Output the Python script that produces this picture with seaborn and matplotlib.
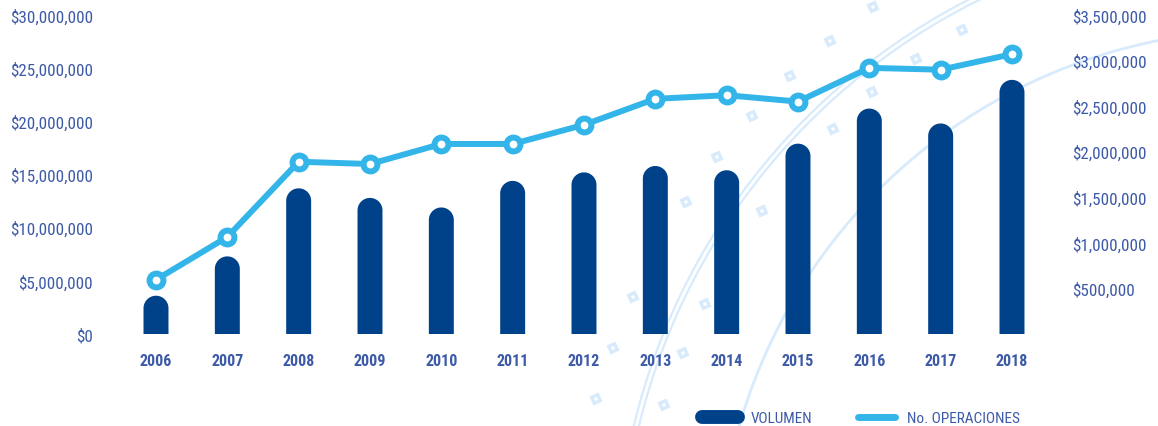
import numpy as np
import pandas as pd
import matplotlib
matplotlib.use("Agg")
import matplotlib.pyplot as plt
from matplotlib.patches import Arc, RegularPolygon, PathPatch
from matplotlib.path import Path
from matplotlib.lines import Line2D
from matplotlib.ticker import FuncFormatter, FixedLocator
import seaborn as sns

# ---- data -------------------------------------------------------------
years = ["2006", "2007", "2008", "2009", "2010", "2011", "2012",
         "2013", "2014", "2015", "2016", "2017", "2018"]
volumen = [3.6e6, 7.3e6, 13.7e6, 12.8e6, 11.9e6, 14.4e6, 15.2e6,
           15.8e6, 15.4e6, 17.9e6, 21.2e6, 19.8e6, 23.9e6]
operaciones = [0.595e6, 1.065e6, 1.89e6, 1.865e6, 2.085e6, 2.085e6, 2.295e6,
               2.58e6, 2.62e6, 2.55e6, 2.92e6, 2.90e6, 3.07e6]
left_ticks = [0, 5e6, 10e6, 15e6, 20e6, 25e6, 30e6]
right_ticks = [0.5e6, 1e6, 1.5e6, 2e6, 2.5e6, 3e6, 3.5e6]
legend_labels = ["VOLUMEN", "No. OPERACIONES"]

# ---- style ------------------------------------------------------------
DARK = "#00428a"
LIGHT = "#34b5e9"
TEXT = "#3d5aa8"
DECO = "#d8ebfc"

sns.set_theme(style="white")
plt.rcParams["font.family"] = ["Roboto Condensed", "Liberation Sans Narrow",
                               "Liberation Sans", "DejaVu Sans"]

W, H = 1158, 427
fig = plt.figure(figsize=(W / 100, H / 100), dpi=100)
fig.patch.set_facecolor("white")

# ---- decorative background (arcs and small diamonds) ------------------
bg = fig.add_axes([0, 0, 1, 1], zorder=0)
bg.set_xlim(0, W)
bg.set_ylim(H, 0)
bg.axis("off")
for r, lw in [(644, 1.6), (649, 1.6), (547, 2.0)]:
    bg.add_patch(Arc((1265, 578), 2 * r, 2 * r, theta1=180, theta2=290,
                     color=DECO, lw=lw))
diamonds = [(873, 8), (962, 31), (916, 60), (830, 42), (790, 77), (872, 93),
            (752, 117), (833, 130), (717, 158), (686, 203), (762, 212),
            (633, 298), (705, 305), (613, 349), (683, 354), (596, 400),
            (664, 406)]
for (dx, dy) in diamonds:
    bg.add_patch(RegularPolygon((dx, dy), 4, radius=7, orientation=0.35,
                                facecolor=DECO, edgecolor="none"))
    bg.add_patch(RegularPolygon((dx, dy), 4, radius=2.2, orientation=0.35,
                                facecolor="white", edgecolor="none"))

# ---- main axes --------------------------------------------------------
left_px, right_px, top_px, bottom_px = 100, 1060, 16, 335
ax = fig.add_axes([left_px / W, 1 - bottom_px / H,
                   (right_px - left_px) / W, (bottom_px - top_px) / H],
                  zorder=2)
ax.patch.set_alpha(0)

df = pd.DataFrame({"year": years, "volumen": volumen,
                   "operaciones": operaciones})
df["pos"] = np.arange(len(years))

bar_w = 0.35
sns.barplot(data=df, x="year", y="volumen", color=DARK, width=bar_w,
            saturation=1, ax=ax, zorder=2)
ax.set_xlim(-0.785, len(years) - 1 + 0.673)
ax.set_ylim(0, 30e6)

# rounded tops: redraw each bar as one outline with a semicircular cap
fig.canvas.draw()
px_x = ax.transData.transform([(1, 0)])[0][0] - ax.transData.transform([(0, 0)])[0][0]
px_y = ax.transData.transform([(0, 1)])[0][1] - ax.transData.transform([(0, 0)])[0][1]
theta = np.linspace(np.pi, 0, 40)
for patch in list(ax.patches):
    x0 = patch.get_x()
    w = patch.get_width()
    h = patch.get_height()
    r_y = (w / 2) * px_x / px_y
    cx, cy = x0 + w / 2, h - r_y
    arc = np.column_stack([cx + (w / 2) * np.cos(theta),
                           cy + r_y * np.sin(theta)])
    verts = np.vstack([[x0, 0], [x0, cy], arc, [x0 + w, cy], [x0 + w, 0],
                       [x0, 0]])
    codes = [Path.MOVETO] + [Path.LINETO] * (len(verts) - 2) + [Path.CLOSEPOLY]
    ax.add_patch(PathPatch(Path(verts, codes), facecolor=DARK,
                           edgecolor="none", zorder=2))
    patch.set_visible(False)

ax.yaxis.set_major_locator(FixedLocator(left_ticks))
ax.yaxis.set_major_formatter(FuncFormatter(lambda v, p: f"${v:,.0f}"))
ax.tick_params(axis="y", length=0, pad=5, labelsize=12.3, labelcolor=TEXT)
ax.tick_params(axis="x", length=0, pad=14, labelsize=11.5, labelcolor=TEXT)
for t in ax.get_xticklabels():
    t.set_fontweight("bold")
ax.set_xlabel("")
ax.set_ylabel("")
sns.despine(ax=ax, left=True, bottom=True)

# ---- line on secondary axis -------------------------------------------
ax2 = ax.twinx()
ax2.patch.set_alpha(0)
sns.lineplot(data=df, x="pos", y="operaciones", color=LIGHT, lw=4.3,
             marker="o", markersize=10, markerfacecolor="white",
             markeredgecolor=LIGHT, markeredgewidth=4.3, sort=False,
             ax=ax2, zorder=3)
ax2.set_ylim(0, 3.5e6)
ax2.yaxis.set_major_locator(FixedLocator(right_ticks))
ax2.yaxis.set_major_formatter(FuncFormatter(lambda v, p: f"${v:,.0f}"))
ax2.tick_params(axis="y", length=0, pad=9, labelsize=12.3, labelcolor=TEXT)
ax2.set_ylabel("")
ax2.set_xlabel("")
sns.despine(ax=ax2, left=True, bottom=True, right=True)
for lbl in ax2.get_yticklabels():
    lbl.set_horizontalalignment("left")

# ---- legend -----------------------------------------------------------
handles = [Line2D([0], [0], color=DARK, lw=10, solid_capstyle="round"),
           Line2D([0], [0], color=LIGHT, lw=5, solid_capstyle="round")]
leg = fig.legend(handles, legend_labels, loc="center left",
                 bbox_to_anchor=(694 / W, 1 - 419 / H), ncol=2,
                 frameon=False, fontsize=11, handlelength=2.4,
                 handletextpad=0.8, columnspacing=3.0, borderpad=0)
for t in leg.get_texts():
    t.set_color(TEXT)

fig.savefig("out.png", dpi=100, facecolor="white")
